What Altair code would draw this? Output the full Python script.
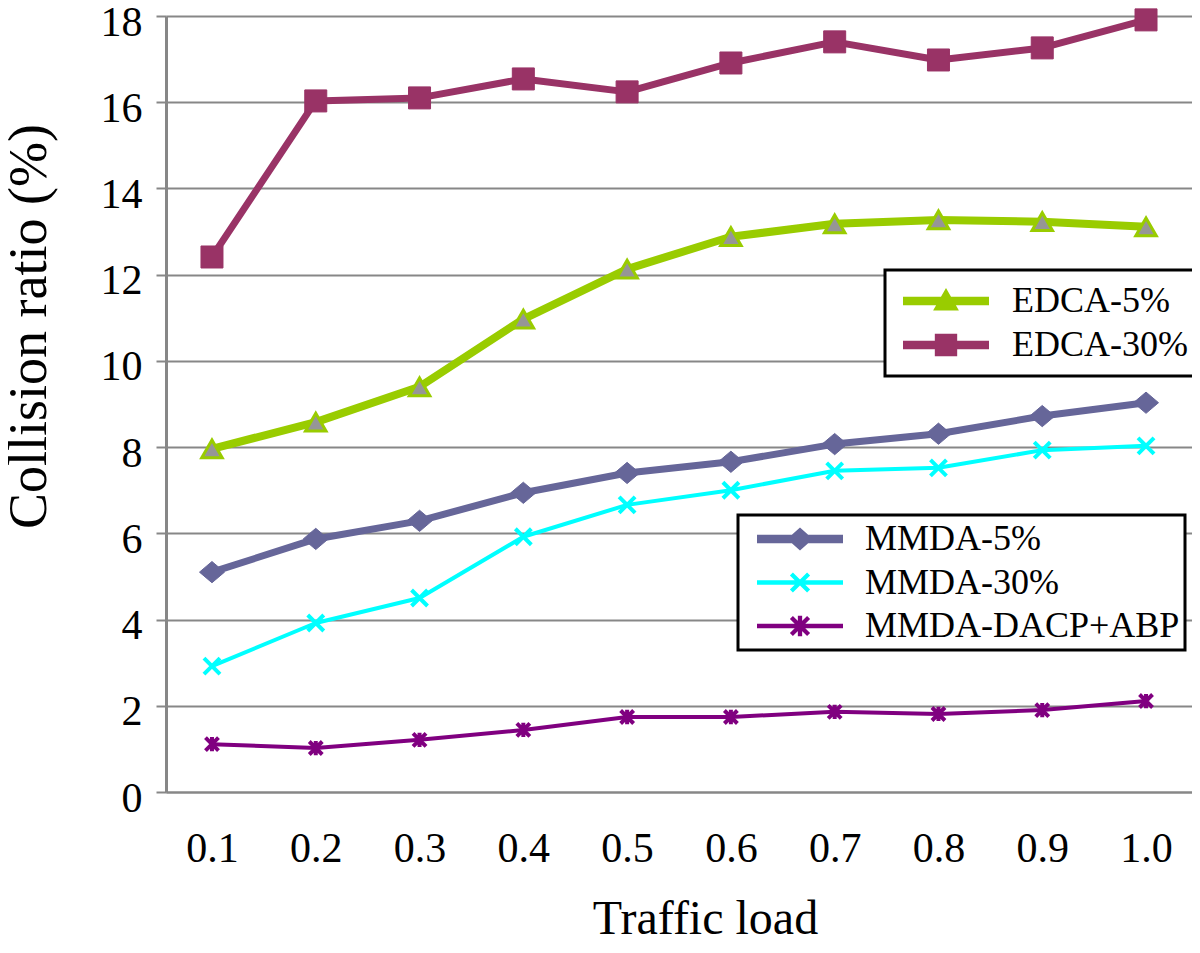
import altair as alt
import pandas as pd

loads = ["0.1", "0.2", "0.3", "0.4", "0.5", "0.6", "0.7", "0.8", "0.9", "1.0"]
edca5 = [7.96, 8.58, 9.40, 10.97, 12.13, 12.88, 13.18, 13.27, 13.23, 13.11]
edca30 = [12.41, 16.03, 16.10, 16.54, 16.24, 16.91, 17.40, 16.98, 17.26, 17.91]
mmda5 = [5.10, 5.87, 6.29, 6.94, 7.40, 7.66, 8.07, 8.31, 8.72, 9.03]
mmda30 = [2.92, 3.92, 4.50, 5.92, 6.66, 7.00, 7.45, 7.52, 7.93, 8.03]
dacp = [1.11, 1.02, 1.21, 1.44, 1.74, 1.74, 1.86, 1.81, 1.90, 2.11]

series_names = ["EDCA-5%", "EDCA-30%", "MMDA-5%", "MMDA-30%", "MMDA-DACP+ABP"]
series_values = [edca5, edca30, mmda5, mmda30, dacp]
edca_names = ["EDCA-5%", "EDCA-30%"]
mmda_names = ["MMDA-5%", "MMDA-30%", "MMDA-DACP+ABP"]

colors = {
    "EDCA-5%": "#99CC00",
    "EDCA-30%": "#993366",
    "MMDA-5%": "#666699",
    "MMDA-30%": "#00FFFF",
    "MMDA-DACP+ABP": "#800080",
}
line_widths = {"EDCA-5%": 8, "EDCA-30%": 7, "MMDA-5%": 7, "MMDA-30%": 4, "MMDA-DACP+ABP": 4}

rows = []
for name, vals in zip(series_names, series_values):
    for ld, v in zip(loads, vals):
        rows.append({"load": ld, "series": name, "value": v})
df = pd.DataFrame(rows)

FONT = "'Liberation Serif', 'Times New Roman', Times, serif"
GRID = "#878787"

x_enc = alt.X(
    "load:O",
    scale=alt.Scale(type="point", padding=0.443, domain=loads),
    axis=alt.Axis(
        title="Traffic load", labelAngle=0, ticks=False, grid=False,
        domainColor=GRID, domainWidth=2,
        labelFont=FONT, labelFontSize=42, labelColor="black", labelPadding=36,
        titleFont=FONT, titleFontSize=48, titleFontWeight="normal", titleColor="black",
        titleX=539, titleY=141, titleBaseline="alphabetic", titleAlign="center",
    ),
)
y_enc = alt.Y(
    "value:Q",
    scale=alt.Scale(domain=[0, 18], nice=False, zero=True),
    axis=alt.Axis(
        title="Collision ratio (%)", values=list(range(0, 19, 2)),
        grid=True, gridColor=GRID, gridWidth=2,
        domainColor=GRID, domainWidth=3, tickColor=GRID, tickWidth=2, tickSize=10,
        labelFont=FONT, labelFontSize=42, labelColor="black", labelPadding=14, labelOffset=6,
        titleFont=FONT, titleFontSize=54, titleFontWeight="normal", titleColor="black",
        titleX=-121, titleY=310, titleAngle=270, titleBaseline="alphabetic", titleAlign="center",
    ),
)

base = alt.Chart(df)

# marker definitions for data points
X_PATH = "M-1,-1L1,1M-1,1L1,-1"
AST_PATH = "M-1,-1L1,1M-1,1L1,-1M0,-1.1L0,1.1"
DIAM_PATH = "M-1,0L0,-0.85L1,0L0,0.85Z"
markers = {
    "EDCA-5%": dict(shape="triangle-up", size=420, filled=True, fill="#969696", stroke="#99CC00", strokeWidth=3),
    "EDCA-30%": dict(shape="square", size=484, filled=True, fill="#993366", stroke="#993366", strokeWidth=1),
    "MMDA-5%": dict(shape=DIAM_PATH, size=625, filled=True, fill="#666699", stroke="#666699", strokeWidth=1),
    "MMDA-30%": dict(shape=X_PATH, size=256, filled=False, stroke="#00FFFF", strokeWidth=4),
    "MMDA-DACP+ABP": dict(shape=AST_PATH, size=169, filled=False, stroke="#800080", strokeWidth=4),
}

layers = []
for name in series_names:
    sub = base.transform_filter(alt.datum.series == name)
    layers.append(
        sub.mark_line(color=colors[name], strokeWidth=line_widths[name], strokeJoin="round", strokeCap="round")
        .encode(x=x_enc, y=y_enc)
    )
for name in series_names:
    sub = base.transform_filter(alt.datum.series == name)
    layers.append(sub.mark_point(opacity=1, **markers[name]).encode(x=x_enc, y=y_enc))

# legend symbols: bar + marker (unit coordinates, scaled by sqrt(size)/2)
BAR8 = "M-1,-0.1H1V0.1H-1Z"
BAR4 = "M-1,-0.055H1V0.055H-1Z"
XPOLY = ("M-0.165,-0.235L0.235,0.165L0.165,0.235L-0.235,-0.165Z"
         "M-0.235,0.165L0.165,-0.235L0.235,-0.165L-0.165,0.235Z")
leg_shapes = {
    "EDCA-5%": BAR8 + "M0,-0.3L0.3,0.22L-0.3,0.22Z",
    "EDCA-30%": BAR8 + "M-0.26,-0.26H0.26V0.26H-0.26Z",
    "MMDA-5%": BAR8 + "M-0.3,0L0,-0.27L0.3,0L0,0.27Z",
    "MMDA-30%": BAR4 + XPOLY,
    "MMDA-DACP+ABP": BAR4 + XPOLY + "M-0.05,-0.24H0.05V0.24H-0.05Z",
}


def make_legend(lx, ly, pad, clip, rowpad, symoff, laboff):
    return alt.Legend(
        title=None, orient="none", legendX=lx, legendY=ly,
        labelFont=FONT, labelFontSize=36, labelColor="black", labelLimit=500,
        symbolSize=7396, symbolStrokeWidth=0, symbolOpacity=1,
        symbolOffset=symoff, labelOffset=laboff,
        clipHeight=clip, rowPadding=rowpad, padding=pad,
        strokeColor="black", fillColor="white",
    )


leg1 = make_legend(719, 254, 10, 42, 2, 8, 23)
leg2 = make_legend(572, 499, 5, 38, 5.5, 14, 22)


def legend_layer(names, leg):
    return (
        base.transform_filter(alt.FieldOneOfPredicate(field="series", oneOf=names))
        .mark_point(filled=True, opacity=0)
        .encode(
            x=x_enc, y=y_enc,
            color=alt.Color("series:N", scale=alt.Scale(domain=names, range=[colors[n] for n in names]), legend=leg),
            shape=alt.Shape("series:N", scale=alt.Scale(domain=names, range=[leg_shapes[n] for n in names]), legend=leg),
        )
    )


layers.append(legend_layer(edca_names, leg1))
layers.append(legend_layer(mmda_names, leg2))

chart = (
    alt.layer(*layers)
    .resolve_scale(color="independent", shape="independent")
    .properties(
        width=1026, height=776,
        autosize=alt.AutoSizeParams(type="none"),
        padding={"left": 158, "top": 8, "right": 0, "bottom": 148},
        background="white",
    )
    .configure(font=FONT)
    .configure_axis(labelFont=FONT, titleFont=FONT)
    .configure_legend(strokeWidth=3, labelFont=FONT)
    .configure_view(stroke=None)
)

chart.save("out.html", embed_options={"renderer": "svg", "actions": False})
